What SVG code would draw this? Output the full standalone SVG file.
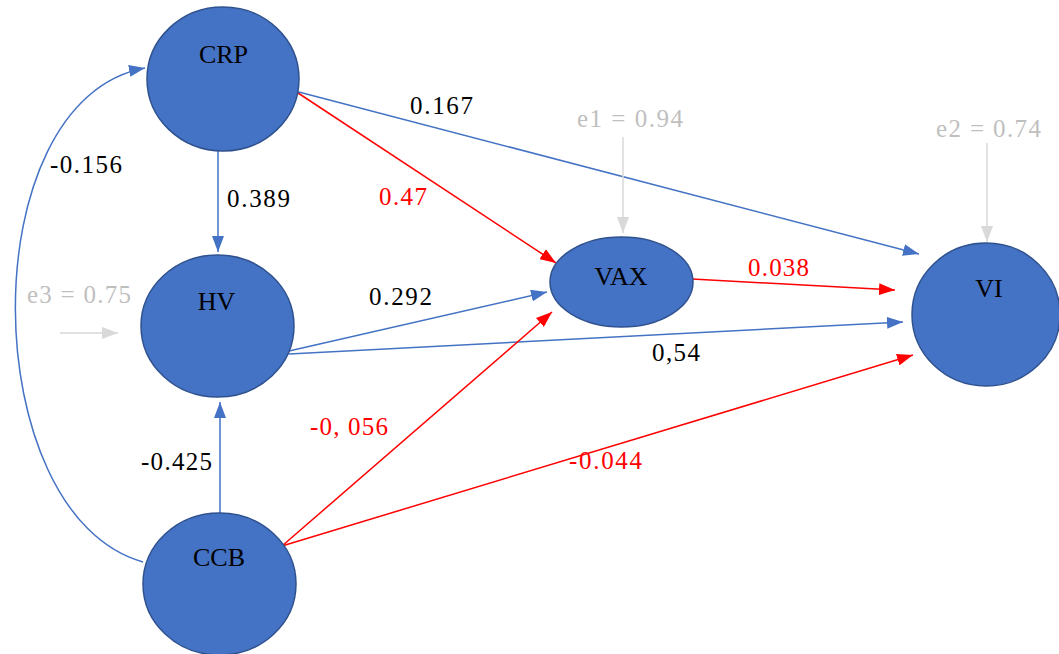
<svg xmlns="http://www.w3.org/2000/svg" width="1059" height="654" viewBox="0 0 1059 654">
<style>
.node{fill:#4472c4;stroke:#2f528f;stroke-width:1.5}
.nl{font-family:"Liberation Serif","Times New Roman",serif;font-size:26px;fill:#000;text-anchor:middle}
.lb{font-family:"Liberation Serif","Times New Roman",serif;font-size:25px;lengthAdjust:spacing}
.k{fill:#000}
.r{fill:#ff0000}
.g{fill:#bfbfbf}
.cb{fill:none;stroke:#4472c4;stroke-width:1.5}
.cr{fill:none;stroke:#ff0000;stroke-width:1.5}
.cg{fill:none;stroke:#d9d9d9;stroke-width:1.5}
</style>
<defs>
<marker id="ab" viewBox="0 0 16 12" refX="16" refY="6" markerWidth="16" markerHeight="12" markerUnits="userSpaceOnUse" orient="auto"><path d="M0,0 L16,6 L0,12 Z" fill="#4472c4"/></marker>
<marker id="ar" viewBox="0 0 16 12" refX="16" refY="6" markerWidth="16" markerHeight="12" markerUnits="userSpaceOnUse" orient="auto"><path d="M0,0 L16,6 L0,12 Z" fill="#ff0000"/></marker>
<marker id="ag" viewBox="0 0 16 12" refX="16" refY="6" markerWidth="16" markerHeight="12" markerUnits="userSpaceOnUse" orient="auto"><path d="M0,0 L16,6 L0,12 Z" fill="#d9d9d9"/></marker>
</defs>
<rect width="1059" height="654" fill="#ffffff"/>
<g id="connectors">
<path class="cb" d="M143,562 C-25,515 -30,100 145,68" marker-end="url(#ab)"/>
<line class="cb" x1="218" y1="151" x2="218" y2="252" marker-end="url(#ab)"/>
<line class="cb" x1="220" y1="513" x2="220" y2="402" marker-end="url(#ab)"/>
<line class="cr" x1="295" y1="91" x2="556" y2="263" marker-end="url(#ar)"/>
<line class="cb" x1="295" y1="91" x2="919" y2="254" marker-end="url(#ab)"/>
<line class="cb" x1="289" y1="351" x2="547" y2="292" marker-end="url(#ab)"/>
<line class="cb" x1="289" y1="354" x2="903" y2="322" marker-end="url(#ab)"/>
<line class="cr" x1="282" y1="546" x2="552" y2="312" marker-end="url(#ar)"/>
<line class="cr" x1="282" y1="546" x2="913" y2="355" marker-end="url(#ar)"/>
<line class="cr" x1="692" y1="279" x2="895" y2="290" marker-end="url(#ar)"/>
<line class="cg" x1="623" y1="137" x2="623" y2="233" marker-end="url(#ag)"/>
<line class="cg" x1="987" y1="143" x2="987" y2="242" marker-end="url(#ag)"/>
<line class="cg" x1="60" y1="333" x2="118" y2="333" marker-end="url(#ag)"/>
</g>
<g id="node-crp"><ellipse class="node" cx="223" cy="79" rx="76" ry="72"/><text class="nl" x="223.5" y="63">CRP</text></g>
<g id="node-hv"><ellipse class="node" cx="217.5" cy="326" rx="76.5" ry="71"/><text class="nl" x="216.5" y="310">HV</text></g>
<g id="node-ccb"><ellipse class="node" cx="219.5" cy="584" rx="76.5" ry="71"/><text class="nl" x="219" y="566">CCB</text></g>
<g id="node-vax"><ellipse class="node" cx="621.5" cy="282" rx="71.5" ry="45"/><text class="nl" x="621" y="285">VAX</text></g>
<g id="node-vi"><ellipse class="node" cx="986" cy="314.5" rx="74" ry="71.5"/><text class="nl" x="989" y="297">VI</text></g>
<g id="labels">
<text class="lb k" x="410" y="114" textLength="63">0.167</text>
<text class="lb r" x="379" y="205" textLength="48">0.47</text>
<text class="lb k" x="227" y="207" textLength="63">0.389</text>
<text class="lb k" x="50" y="173" textLength="72">-0.156</text>
<text class="lb g" x="27" y="303" textLength="104">e3 = 0.75</text>
<text class="lb k" x="369" y="305" textLength="63">0.292</text>
<text class="lb r" x="748" y="276" textLength="61">0.038</text>
<text class="lb k" x="652" y="361" textLength="48">0,54</text>
<text class="lb r" x="310" y="435" textLength="78">-0, 056</text>
<text class="lb k" x="141" y="470" textLength="71">-0.425</text>
<text class="lb r" x="569" y="469" textLength="73">-0.044</text>
<text class="lb g" x="577" y="127" textLength="106">e1 = 0.94</text>
<text class="lb g" x="936" y="137" textLength="105">e2 = 0.74</text>
</g>
</svg>
